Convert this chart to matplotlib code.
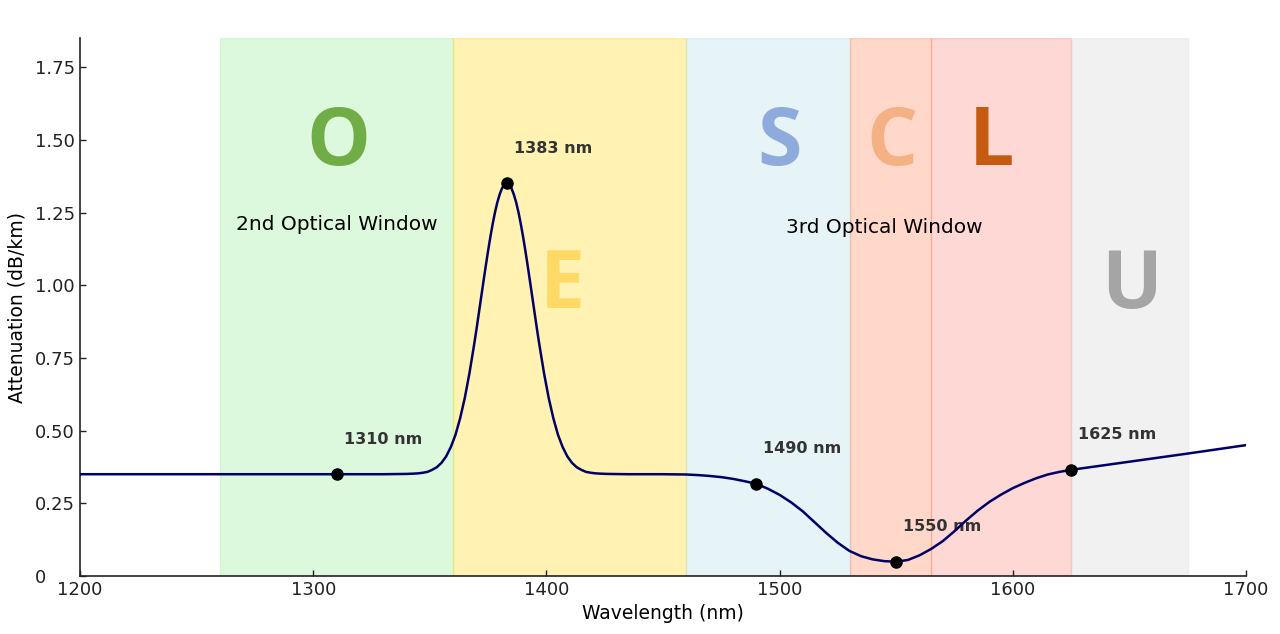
import matplotlib
matplotlib.use("Agg")
import matplotlib.pyplot as plt

# ---------------- data ----------------
curve_x = [1200, 1250, 1300, 1330, 1340, 1343, 1345, 1347, 1349, 1351, 1353, 1355,
           1357, 1359, 1361, 1363, 1365, 1367, 1369, 1370, 1371, 1372, 1373, 1374,
           1375, 1376, 1377, 1378, 1379, 1380, 1381, 1382, 1383, 1384, 1385, 1386,
           1387, 1388, 1389, 1390, 1391, 1392, 1393, 1394, 1395, 1396, 1397, 1399,
           1401, 1403, 1405, 1407, 1409, 1411, 1413, 1415, 1417, 1419, 1421, 1423,
           1426, 1435, 1450, 1460, 1465, 1470, 1475, 1480, 1485, 1490, 1495, 1500,
           1505, 1510, 1515, 1520, 1525, 1530, 1535, 1540, 1545, 1550, 1555, 1560,
           1565, 1570, 1575, 1580, 1585, 1590, 1595, 1600, 1605, 1610, 1615, 1620,
           1625, 1650, 1675, 1700]
curve_y = [0.350, 0.350, 0.350, 0.350, 0.351, 0.352, 0.353, 0.355, 0.358, 0.365, 0.374, 0.389,
           0.411, 0.443, 0.485, 0.542, 0.612, 0.697, 0.795, 0.847, 0.902, 0.957, 1.012, 1.066,
           1.118, 1.167, 1.212, 1.252, 1.286, 1.313, 1.334, 1.346, 1.350, 1.346, 1.334, 1.313,
           1.286, 1.252, 1.212, 1.167, 1.118, 1.066, 1.012, 0.957, 0.902, 0.847, 0.795, 0.697,
           0.612, 0.542, 0.485, 0.443, 0.411, 0.389, 0.374, 0.365, 0.358, 0.355, 0.353, 0.352,
           0.351, 0.350, 0.350, 0.349, 0.347, 0.344, 0.340, 0.334, 0.326, 0.317, 0.300, 0.279,
           0.253, 0.222, 0.185, 0.148, 0.114, 0.086, 0.068, 0.057, 0.051, 0.049, 0.055, 0.071,
           0.093, 0.120, 0.154, 0.191, 0.225, 0.255, 0.280, 0.302, 0.320, 0.336, 0.349, 0.358,
           0.365, 0.393, 0.421, 0.450]

marker_x = [1310, 1383, 1490, 1550, 1625]
marker_y = [0.350, 1.350, 0.317, 0.049, 0.365]
marker_labels = ["1310 nm", "1383 nm", "1490 nm", "1550 nm", "1625 nm"]

band_names = ["O", "E", "S", "C", "L", "U"]
band_start = [1260, 1360, 1460, 1530, 1565, 1625]
band_end = [1360, 1460, 1530, 1565, 1625, 1675]
band_fill = ["lightgreen", "gold", "lightblue", "coral", "salmon", "lightgrey"]
band_letter_color = ["#70AD47", "#FFD966", "#8FAADC", "#F4B183", "#C55A11", "#A5A5A5"]
band_letter_x = [1311, 1407, 1500, 1548, 1591, 1651]
band_letter_y = [1.415, 0.92, 1.415, 1.415, 1.415, 0.92]

window_labels = ["2nd Optical Window", "3rd Optical Window"]
window_x = [1310, 1545]
window_y = [1.21, 1.197]

xticks = [1200, 1300, 1400, 1500, 1600, 1700]
yticks = [0, 0.25, 0.50, 0.75, 1.00, 1.25, 1.50, 1.75]
ytick_labels = ["0", "0.25", "0.50", "0.75", "1.00", "1.25", "1.50", "1.75"]

# ---------------- figure ----------------
fig = plt.figure(figsize=(12.8, 6.34), dpi=100)
ax = fig.add_axes([0.0625, 0.0915, 0.9109, 0.8485])

for a, b, c in zip(band_start, band_end, band_fill):
    ax.axvspan(a, b, color=c, alpha=0.3, zorder=0)

for name, xx, col, yy in zip(band_names, band_letter_x, band_letter_color, band_letter_y):
    ax.text(xx, yy, name, ha="center", va="baseline", fontsize=58,
            fontweight="bold", family="Open Sans", color=col, zorder=1)

for t, xx, yy in zip(window_labels, window_x, window_y):
    ax.text(xx, yy, t, ha="center", va="center", fontsize=14.5, color="black", zorder=1)

ax.plot(curve_x, curve_y, color="#000066", lw=1.8, zorder=3)
ax.plot(marker_x, marker_y, "o", color="black", ms=8, zorder=4)

for xx, yy, t in zip(marker_x, marker_y, marker_labels):
    ax.text(xx + 3, yy + 0.12, t, ha="left", va="center", fontsize=11.5,
            fontweight="bold", color="#333333", zorder=2.5)

ax.set_xlim(1200, 1700)
ax.set_ylim(0, 1.85)
ax.set_xticks(xticks)
ax.set_yticks(yticks)
ax.set_yticklabels(ytick_labels)
ax.tick_params(direction="in", length=4, width=1, labelsize=13, colors="#222222")
ax.tick_params(axis="y", pad=32.4)
for lab in ax.get_yticklabels():
    lab.set_horizontalalignment("left")
ax.spines["top"].set_visible(False)
ax.spines["right"].set_visible(False)
for s in ["left", "bottom"]:
    ax.spines[s].set_linewidth(1.2)
    ax.spines[s].set_color("#222222")

ax.set_xlabel("Wavelength (nm)", fontsize=13.5, labelpad=4)
ax.set_ylabel("Attenuation (dB/km)", fontsize=13.5, labelpad=6)

fig.savefig("out.png", dpi=100, facecolor="white")
